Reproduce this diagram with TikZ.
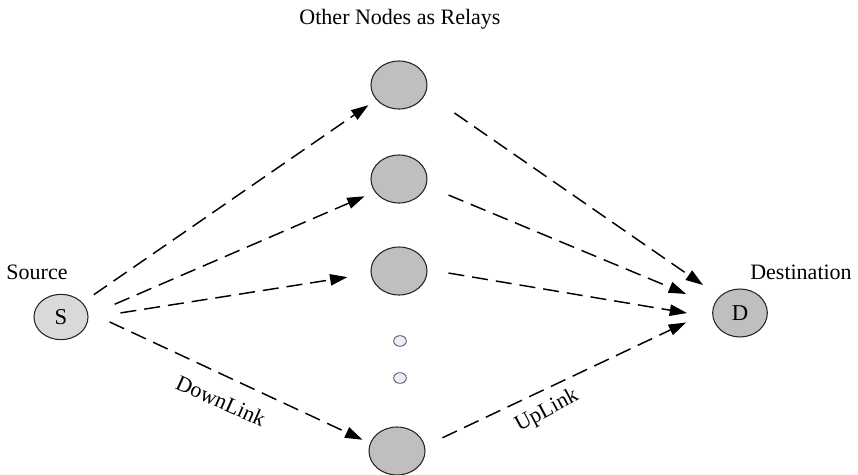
\documentclass[tikz,border=0pt]{standalone}
\usepackage{fontspec}
\setmainfont{Liberation Serif}
\usetikzlibrary{shapes.geometric,arrows.meta}
\definecolor{srcgray}{HTML}{D9D9D9}
\definecolor{relgray}{HTML}{BFBFBF}
\definecolor{dotfill}{HTML}{E8EEF8}
\tikzset{
  relay/.style={ellipse,draw=black!85,line width=0.8pt,fill=relgray,inner sep=0pt,minimum width=42pt,minimum height=36pt},
  srcnode/.style={ellipse,draw=black!85,line width=0.8pt,fill=srcgray,inner sep=0pt,minimum width=40.5pt,minimum height=34pt,font=\fontsize{17}{19}\selectfont},
  dstnode/.style={ellipse,draw=black!85,line width=0.8pt,fill=relgray,inner sep=0pt,minimum width=41pt,minimum height=36pt,font=\fontsize{17}{19}\selectfont},
  smalldot/.style={ellipse,draw=black!70,line width=0.6pt,fill=dotfill,inner sep=0pt,minimum width=9.5pt,minimum height=8pt},
  lbl/.style={font=\fontsize{16.5}{19}\selectfont,inner sep=0pt},
  link/.style={line width=1.1pt,dash pattern=on 12pt off 6pt,-{Triangle[length=13pt,width=8.5pt]}}
}
\begin{document}
\begin{tikzpicture}[x=0.75pt,y=-0.75pt]
\useasboundingbox (0,0) rectangle (858,475);
\node[lbl] (title) at (400,19) {Other Nodes as Relays};
\node[lbl] (srclbl) at (37,272) {Source};
\node[lbl] (dstlbl) at (801,272) {Destination};
\node[srcnode] (S) at (61,317) {S};
\node[dstnode] (D) at (740,313) {D};
\node[relay] (R1) at (399,85) {};
\node[relay] (R2) at (399,179) {};
\node[relay] (R3) at (399,271) {};
\node[relay] (R4) at (397,451) {};
\node[smalldot] (d1) at (400,341) {};
\node[smalldot] (d2) at (400,378) {};
% downlinks
\draw[link,shorten <=10.3pt,shorten >=7.1pt] (S.34) -- (R1.213);
\draw[link,shorten <=21.4pt,shorten >=8.3pt] (S.3) -- (R2.208);
\draw[link,shorten <=24.3pt,shorten >=17.6pt] (S.-2) -- (R3.185);
\draw[link,shorten <=18pt,shorten >=6.2pt] (S.11) -- (R4.164);
% uplinks
\draw[link,shorten <=26pt,shorten >=15pt] (R1.-17) -- (D.141);
\draw[link,shorten <=18pt,shorten >=22.3pt] (R2.-14) -- (D.164);
\draw[link,shorten <=16pt,shorten >=19.4pt] (R3.3) -- (D.189);
\draw[link,shorten <=14.5pt,shorten >=21.8pt] (R4.10) -- (D.174);
\node[lbl,rotate=-24] (down) at (221,401) {DownLink};
\node[lbl,rotate=28] (up) at (547,411) {UpLink};
\end{tikzpicture}
\end{document}
